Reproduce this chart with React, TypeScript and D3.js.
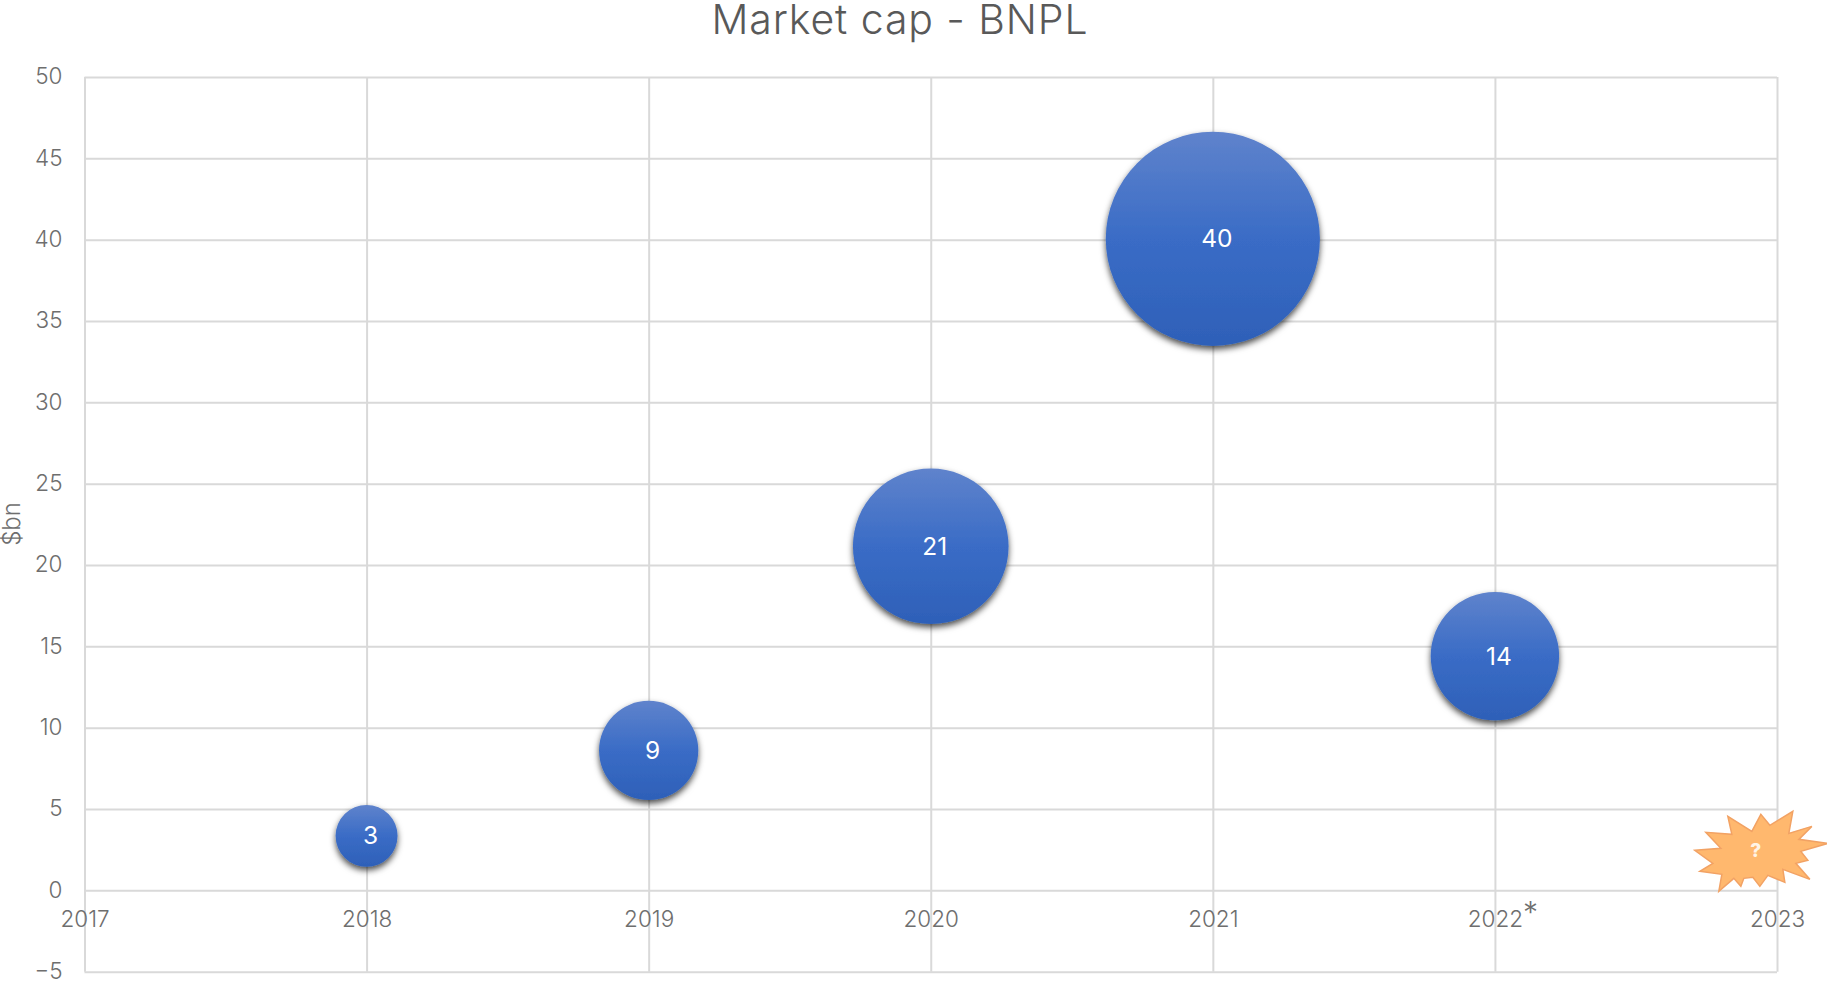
import React, { useEffect, useRef } from 'react';
import * as d3 from 'd3';

const years = [2018, 2019, 2020, 2021, 2022];
const marketCap = [3.35, 8.6, 21.15, 40.05, 14.4];
const bubbleLabels = ['3', '9', '21', '40', '14'];
const yTicks = d3.range(-5, 51, 5);
const xTicks = [2017, 2018, 2019, 2020, 2021, 2022, 2023];

const burstAt = { year: 2022.925, value: 2.46 };
const burstOutline: [number, number][] = [
  [-61, 0], [-35, -2], [-50, -18], [-24, -16], [-28, -34], [-4, -19], [5, -36],
  [14, -25], [37, -39], [33, -17], [56, -24], [43, -11], [72, -7], [45, 1],
  [52, 10], [40, 13], [54, 29], [27, 19], [29, 32], [12, 25], [4, 36], [-3, 27],
  [-12, 28], [-15, 36], [-22, 28], [-37, 41], [-34, 24], [-56, 21], [-43, 13],
];

const W = 1827;
const H = 984;
const font = 'Inter, "Noto Sans", sans-serif';

export default function App() {
  const ref = useRef<SVGSVGElement>(null);

  useEffect(() => {
    const svg = d3.select(ref.current);
    svg.selectAll('*').remove();

    const x = d3.scaleLinear().domain([2017, 2023]).range([84.5, 1777]);
    const y = d3.scaleLinear().domain([-5, 50]).range([971.7, 77]);
    const r = d3.scaleSqrt().domain([0, 40]).range([0, 107]);

    const defs = svg.append('defs');
    const grad = defs
      .append('linearGradient')
      .attr('id', 'bubble')
      .attr('x1', 0)
      .attr('y1', 0)
      .attr('x2', 0)
      .attr('y2', 1);
    grad.append('stop').attr('offset', '0%').attr('stop-color', '#5f83cc');
    grad.append('stop').attr('offset', '50%').attr('stop-color', '#3a6cc6');
    grad.append('stop').attr('offset', '100%').attr('stop-color', '#2e60b8');
    const shadow = defs
      .append('filter')
      .attr('id', 'shadow')
      .attr('x', '-20%')
      .attr('y', '-20%')
      .attr('width', '140%')
      .attr('height', '140%');
    shadow
      .append('feDropShadow')
      .attr('dx', 0)
      .attr('dy', 3.5)
      .attr('stdDeviation', 3)
      .attr('flood-color', '#000')
      .attr('flood-opacity', 0.7);

    /* ------- AXES AND GRID -------*/
    const yAxis = svg
      .append('g')
      .attr('transform', 'translate(84.5,0)')
      .call(
        d3
          .axisLeft(y)
          .tickValues(yTicks)
          .tickSize(-(1777 - 84.5))
          .tickPadding(22)
          .tickFormat(d3.format('d') as any)
      );
    const xAxis = svg
      .append('g')
      .attr('transform', `translate(0,${y(-5)})`)
      .call(
        d3
          .axisBottom(x)
          .tickValues(xTicks)
          .tickSize(-(y(-5) - y(50)))
          .tickFormat(d3.format('d') as any)
      );
    [xAxis, yAxis].forEach(a => {
      a.select('.domain').remove();
      a.selectAll('line').attr('stroke', '#d9d9d9').attr('stroke-width', 2);
      a.selectAll('text')
        .attr('font-family', font)
        .attr('font-size', 22.5)
        .attr('font-weight', 300)
        .attr('fill', '#6e6e6e');
    });
    yAxis.selectAll('text').attr('dy', '0.3em').attr('x', -22);
    xAxis
      .selectAll('text')
      .attr('y', y(0) - y(-5) + 37)
      .attr('dy', 0);
    xAxis
      .selectAll('.tick')
      .filter((d: any) => d === 2022)
      .append('text')
      .attr('x', 35)
      .attr('y', y(0) - y(-5) + 33)
      .attr('font-family', font)
      .attr('font-size', 30)
      .attr('font-weight', 300)
      .attr('fill', '#6e6e6e')
      .text('*');

    /* ------- BUBBLES -------*/
    const bubbles = svg
      .append('g')
      .selectAll('g')
      .data(years)
      .enter()
      .append('g')
      .attr('transform', (d, i) => `translate(${x(d)},${y(marketCap[i])})`);
    bubbles
      .append('circle')
      .attr('r', (d, i) => r(marketCap[i]))
      .attr('fill', 'url(#bubble)')
      .attr('filter', 'url(#shadow)');
    bubbles
      .append('text')
      .attr('x', 4)
      .attr('y', 8.5)
      .attr('text-anchor', 'middle')
      .attr('font-family', font)
      .attr('font-size', 24.5)
      .attr('font-weight', 400)
      .attr('fill', '#fff')
      .text((d, i) => bubbleLabels[i]);

    /* ------- BURST -------*/
    const burst = svg
      .append('g')
      .attr('transform', `translate(${x(burstAt.year)},${y(burstAt.value)})`);
    burst
      .append('path')
      .attr('d', d3.line().curve(d3.curveLinearClosed)(burstOutline))
      .attr('fill', '#ffb86e')
      .attr('stroke', '#f2a264')
      .attr('stroke-width', 1.5);
    burst
      .append('text')
      .attr('y', 7)
      .attr('text-anchor', 'middle')
      .attr('font-family', font)
      .attr('font-size', 19)
      .attr('font-weight', 800)
      .attr('fill', '#fff4e6')
      .text('?');

    /* ------- TITLES -------*/
    svg
      .append('text')
      .attr('x', 900)
      .attr('y', 34)
      .attr('text-anchor', 'middle')
      .attr('font-family', font)
      .attr('font-size', 41)
      .attr('letter-spacing', 0.9)
      .attr('font-weight', 300)
      .attr('fill', '#595959')
      .text('Market cap - BNPL');
    svg
      .append('text')
      .attr('transform', 'translate(20,524) rotate(-90)')
      .attr('text-anchor', 'middle')
      .attr('font-family', font)
      .attr('font-size', 24)
      .attr('font-weight', 300)
      .attr('fill', '#6e6e6e')
      .text('$bn');
  }, []);

  return (
    <svg
      ref={ref}
      width={W}
      height={H}
      style={{ position: 'absolute', left: 0, top: 0, background: '#fff' }}
    />
  );
}
